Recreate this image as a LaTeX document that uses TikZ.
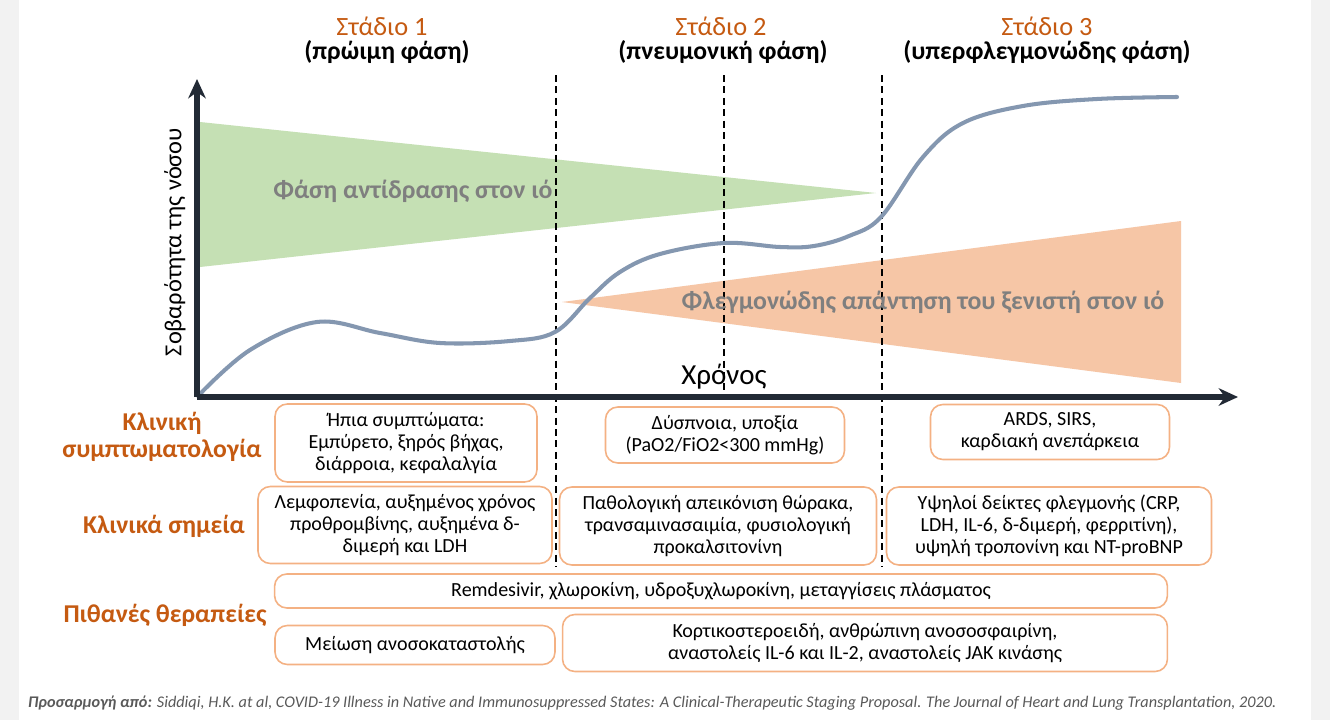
\documentclass[tikz,border=0pt]{standalone}
\usepackage{fontspec}
\setmainfont{Carlito}
\usepackage{tikz}
\usetikzlibrary{arrows.meta}

\definecolor{stageorange}{HTML}{C55A11}
\definecolor{boxline}{HTML}{F4B183}
\definecolor{virusgreen}{HTML}{C5E0B4}
\definecolor{hostpeach}{HTML}{F6C6A6}
\definecolor{curveblue}{HTML}{8497B0}
\definecolor{axisdark}{HTML}{222A35}
\definecolor{phasegray}{HTML}{7F7F7F}
\definecolor{pagegray}{HTML}{F2F2F2}
\definecolor{notegray}{HTML}{595959}

\begin{document}
\begin{tikzpicture}[x=0.02cm, y=-0.02cm, >={Stealth[length=11pt, width=10pt]},
	infobox/.style={draw=boxline, line width=0.9pt, rounded corners=7pt, align=center, inner sep=0pt, font=\fontsize{11.4}{12.5}\selectfont},
	rowlabel/.style={text=stageorange, align=center, font=\fontsize{14.6}{15.4}\selectfont\bfseries},
	stagename/.style={text=stageorange, font=\fontsize{15}{17}\selectfont},
	phasename/.style={font=\fontsize{14.6}{17}\selectfont\bfseries},
	phaselabel/.style={text=phasegray, font=\fontsize{14.7}{17}\selectfont\bfseries},
	stageline/.style={dashed, dash pattern=on 4pt off 2.5pt, line width=0.7pt},
	axisline/.style={axisdark, line width=2.9pt, ->}]

	\fill[pagegray] (0, 0) rectangle (1330, 720);
	\fill[white] (19, 0) rectangle (1311, 720);
	\useasboundingbox (0, 0) rectangle (1330, 720);

	\node[stagename] (stageone) at (382, 26) {Στάδιο 1};
	\node[phasename] (phaseone) at (387, 52) {(πρώιμη φάση)};
	\node[stagename] (stagetwo) at (721, 26) {Στάδιο 2};
	\node[phasename] (phasetwo) at (723, 52) {(πνευμονική φάση)};
	\node[stagename] (stagethree) at (1047, 26) {Στάδιο 3};
	\node[phasename] (phasethree) at (1047, 52) {(υπερφλεγμονώδης φάση)};

	\fill[virusgreen] (200, 122) -- (876, 193) -- (200, 267) -- cycle;
	\fill[hostpeach] (562, 302) -- (1181, 221) -- (1181, 383) -- cycle;

	\coordinate (cutonetop) at (556, 75);
	\coordinate (cutonebot) at (556, 567);
	\coordinate (cuttwotop) at (724, 75);
	\coordinate (cuttwobot) at (724, 397);
	\coordinate (cutthreetop) at (882, 75);
	\coordinate (cutthreebot) at (882, 567);
	\draw[stageline] (cutonetop) -- (cutonebot);
	\draw[stageline] (cuttwotop) -- (cuttwobot);
	\draw[stageline] (cutthreetop) -- (cutthreebot);

	\node[phaselabel] (virusphase) at (413, 191) {Φάση αντίδρασης στον ιό};
	\node[phaselabel] (hostphase) at (923, 302) {Φλεγμονώδης απάντηση του ξενιστή στον ιό};

	\draw[curveblue, line width=2.3pt, line cap=round] plot[smooth, tension=0.6] coordinates {
		(198, 396) (250, 350) (317, 322) (380, 333) (440, 343) (510, 341) (555, 332)
		(590, 298) (620, 272) (660, 254) (724, 243) (780, 247) (814, 246) (849, 236)
		(881, 217) (923, 157) (963, 123) (1023, 106) (1097, 99) (1177, 97)};

	\coordinate (origin) at (197, 397);
	\coordinate (ytip) at (197, 79);
	\coordinate (xtip) at (1238, 397);
	\draw[axisline] (origin) -- (ytip);
	\draw[axisline] (origin) -- (xtip);

	\node[font=\fontsize{16.5}{19}\selectfont] (timelabel) at (724, 377) {Χρόνος};
	\node[rotate=90, font=\fontsize{13.9}{16}\selectfont] (severitylabel) at (175, 242) {Σοβαρότητα της νόσου};

	\node[rowlabel] (symlabel) at (162, 437) {Κλινική\\συμπτωματολογία};
	\node[rowlabel] (signlabel) at (164, 526) {Κλινικά σημεία};
	\node[rowlabel] (therlabel) at (165, 615) {Πιθανές θεραπείες};

	\node[infobox, minimum width=5.24cm, minimum height=1.56cm] (symone) at (406, 443)
		{Ήπια συμπτώματα:\\Εμπύρετο, ξηρός βήχας,\\διάρροια, κεφαλαλγία};
	\node[infobox, minimum width=4.78cm, minimum height=1.12cm] (symtwo) at (725, 435)
		{Δύσπνοια, υποξία\\(PaO2/FiO2<300 mmHg)};
	\node[infobox, minimum width=4.78cm, minimum height=1.10cm] (symthree) at (1050, 432)
		{ARDS, SIRS,\\καρδιακή ανεπάρκεια};

	\node[infobox, minimum width=5.88cm, minimum height=1.54cm] (signone) at (405, 525)
		{Λεμφοπενία, αυξημένος χρόνος\\προθρομβίνης, αυξημένα δ-\\διμερή και LDH};
	\node[infobox, minimum width=6.34cm, minimum height=1.56cm] (signtwo) at (718, 526)
		{Παθολογική απεικόνιση θώρακα,\\τρανσαμινασαιμία, φυσιολογική\\προκαλσιτονίνη};
	\node[infobox, minimum width=6.50cm, minimum height=1.56cm] (signthree) at (1049, 526)
		{Υψηλοί δείκτες φλεγμονής (CRP,\\LDH, IL-6, δ-διμερή, φερριτίνη),\\υψηλή τροπονίνη και NT-proBNP};

	\node[infobox, minimum width=17.86cm, minimum height=0.68cm] (therall) at (721, 591)
		{Remdesivir, χλωροκίνη, υδροξυχλωροκίνη, μεταγγίσεις πλάσματος};
	\node[infobox, minimum width=5.60cm, minimum height=0.78cm] (therlow) at (415, 645)
		{Μείωση ανοσοκαταστολής};
	\node[infobox, minimum width=12.10cm, minimum height=1.14cm] (therhigh) at (865, 643)
		{Κορτικοστεροειδή, ανθρώπινη ανοσοσφαιρίνη,\\αναστολείς IL-6 και IL-2, αναστολείς JAK κινάσης};

	\node[anchor=west, text=notegray, font=\fontsize{9.25}{11}\selectfont\itshape] (source) at (22, 703)
		{\textbf{Προσαρμογή από:} Siddiqi, H.K. at al, COVID-19 Illness in Native and Immunosuppressed States: A Clinical-Therapeutic Staging Proposal. The Journal of Heart and Lung Transplantation, 2020.};
\end{tikzpicture}
\end{document}
